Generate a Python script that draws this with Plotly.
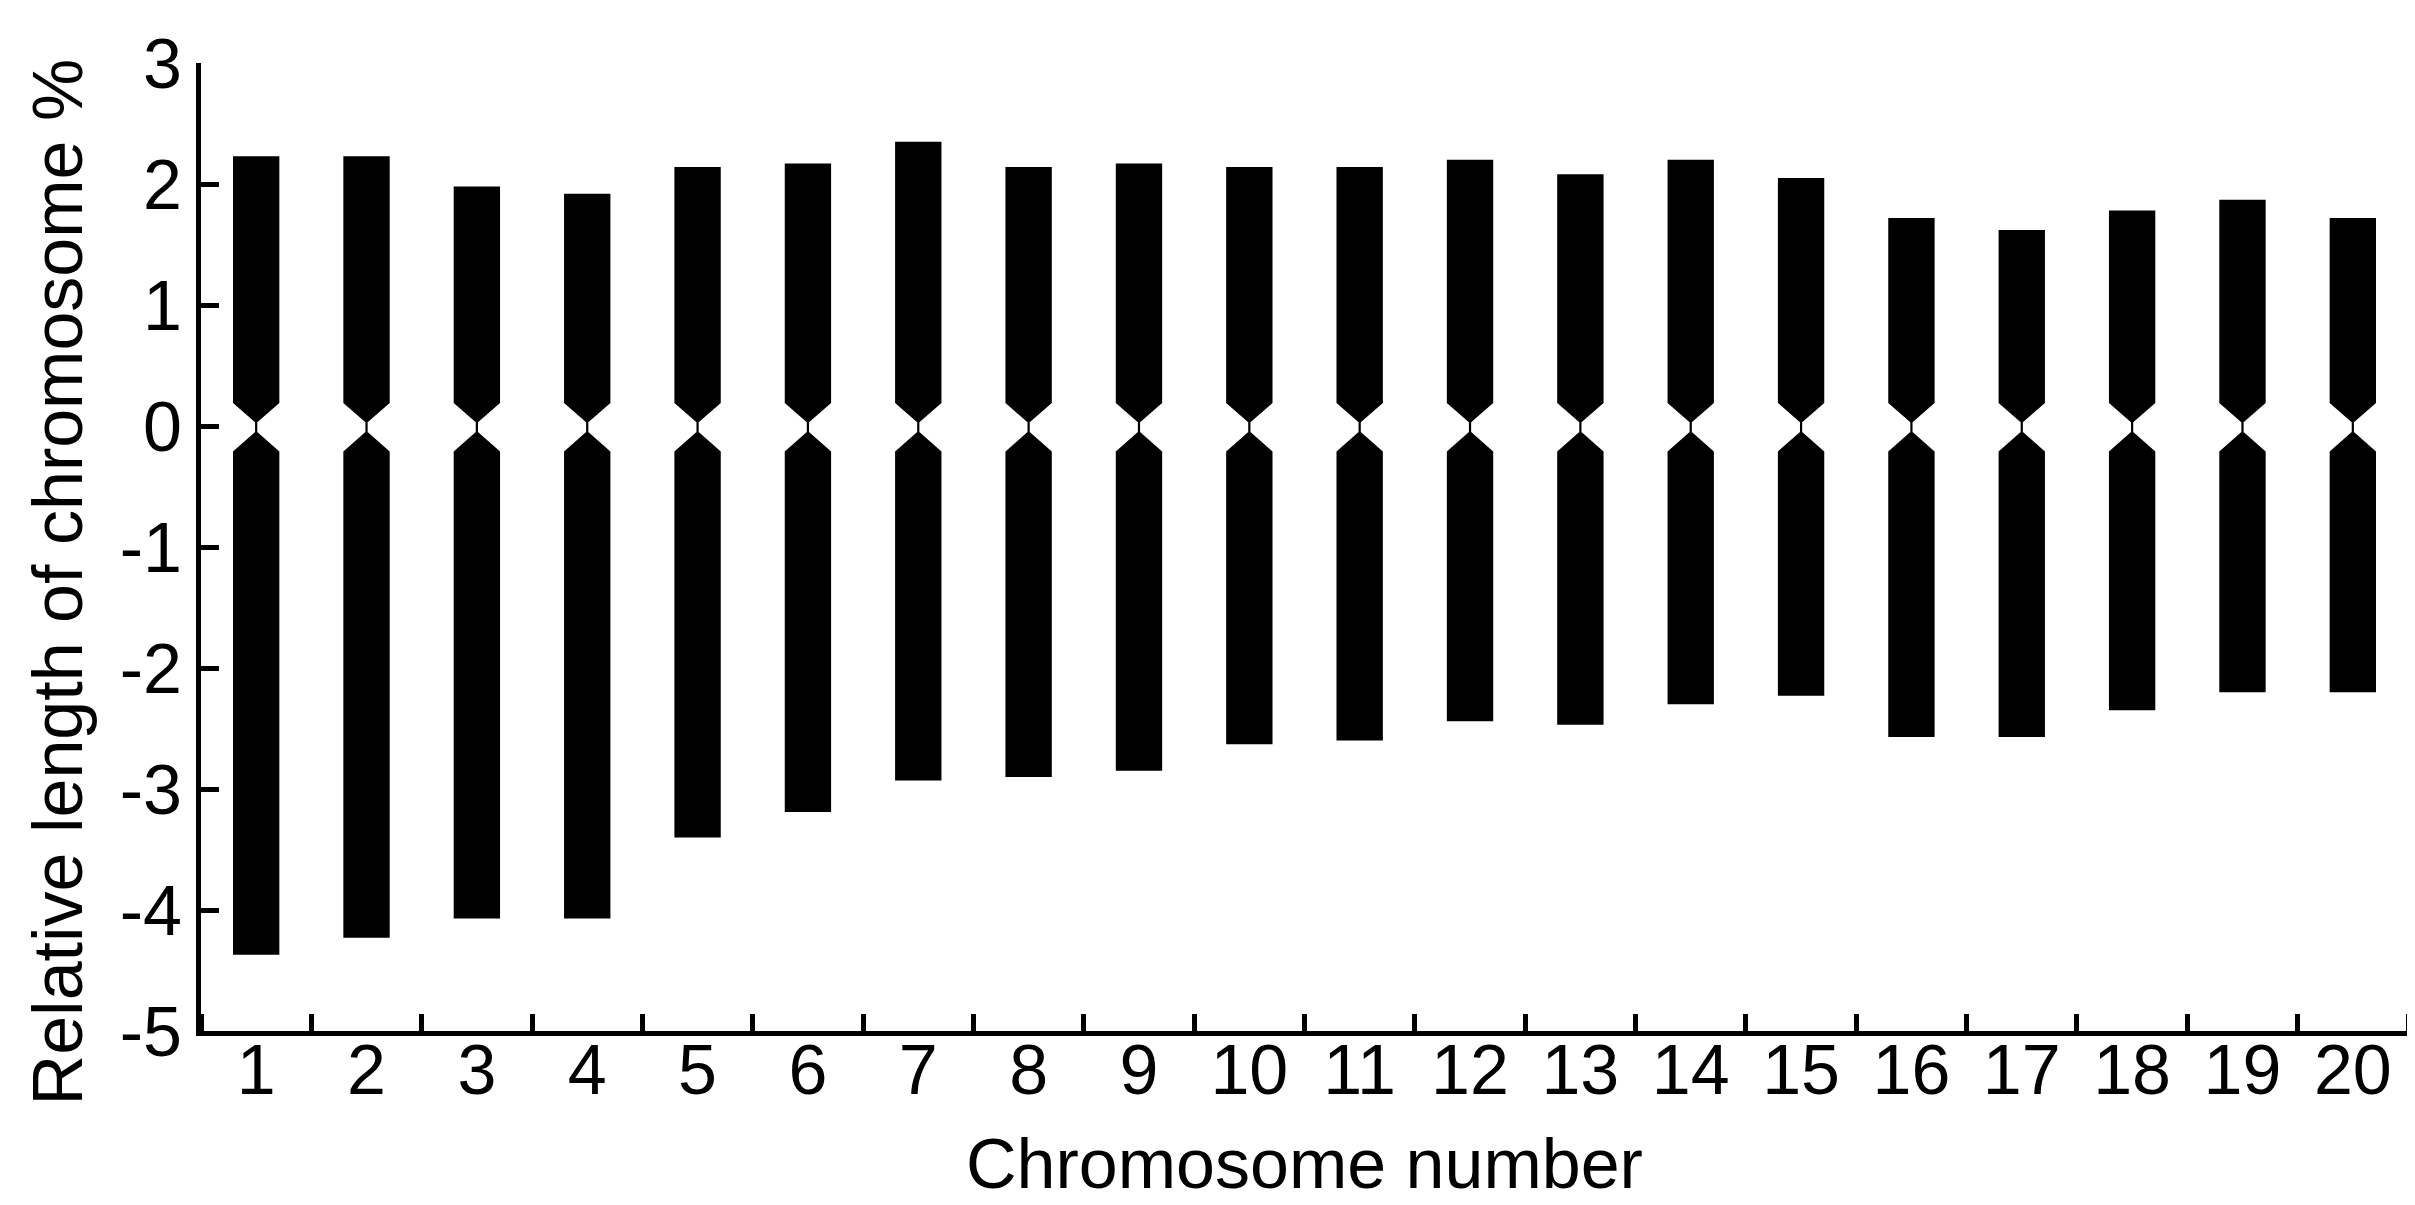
import plotly.graph_objects as go

# chromosome idiogram: short arm above 0, long arm below 0 (relative length %)
chromosomes = [str(i) for i in range(1, 21)]
short_arm = [2.23, 2.23, 1.98, 1.92, 2.14, 2.17, 2.35, 2.14, 2.17, 2.14,
             2.14, 2.20, 2.08, 2.20, 2.05, 1.72, 1.62, 1.78, 1.87, 1.72]
long_arm = [-4.37, -4.23, -4.07, -4.07, -3.40, -3.19, -2.93, -2.90, -2.85, -2.63,
            -2.60, -2.44, -2.47, -2.30, -2.23, -2.57, -2.57, -2.35, -2.20, -2.20]
y_ticks = [3, 2, 1, 0, -1, -2, -3, -4, -5]
y_ticktext = ['3', '2', '1', '0', '-1', '-2', '-3', '-4', '-5']

HALF_W = 0.21    # half width of a chromosome in category units
NECK_W = 0.01    # half width at the centromere
ARM_END_TOP, NECK_TOP = 0.19, 0.03
NECK_BOT, ARM_END_BOT = -0.05, -0.21


def outline(c, top, bottom):
    xs = [c - HALF_W, c + HALF_W, c + HALF_W, c + NECK_W, c + NECK_W, c + HALF_W,
          c + HALF_W, c - HALF_W, c - HALF_W, c - NECK_W, c - NECK_W, c - HALF_W, c - HALF_W]
    ys = [top, top, ARM_END_TOP, NECK_TOP, NECK_BOT, ARM_END_BOT,
          bottom, bottom, ARM_END_BOT, NECK_BOT, NECK_TOP, ARM_END_TOP, top]
    return xs, ys


fig = go.Figure()
for i, (name, top, bottom) in enumerate(zip(chromosomes, short_arm, long_arm)):
    xs, ys = outline(i + 1, top, bottom)
    fig.add_trace(go.Scatter(x=xs, y=ys, fill='toself', fillcolor='black',
                             mode='lines', line=dict(color='black', width=0),
                             name=name, showlegend=False, hoverinfo='skip'))

font = 'Liberation Sans, Arial, sans-serif'
fig.update_layout(
    width=2415, height=1205,
    paper_bgcolor='white', plot_bgcolor='white',
    margin=dict(l=193, r=15, t=55, b=182),
    font=dict(family=font, color='black', size=70),
    xaxis=dict(range=[0.5, 20.5], tickmode='array', tickvals=list(range(1, 21)),
               ticktext=chromosomes, ticks='', showgrid=False, zeroline=False,
               showline=True, linecolor='black', linewidth=5,
               minor=dict(tick0=0.5, dtick=1, ticks='inside', ticklen=17,
                          tickwidth=5, tickcolor='black', showgrid=False),
               tickfont=dict(size=70), ticklabelstandoff=-26),
    yaxis=dict(range=[-5, 3], tickmode='array', tickvals=y_ticks, ticktext=y_ticktext,
               ticks='inside', ticklen=18, tickwidth=5, tickcolor='black',
               showgrid=False, zeroline=False, showline=True, linecolor='black',
               linewidth=5, tickfont=dict(size=70)),
    annotations=[
        dict(text='Chromosome number', xref='paper', yref='paper', x=0.5, y=-0.137,
             xanchor='center', yanchor='middle', showarrow=False, font=dict(size=70)),
        dict(text='Relative length of chromosome %', xref='paper', yref='paper',
             x=-0.065, y=0.464, xanchor='center', yanchor='middle', textangle=-90,
             showarrow=False, font=dict(size=70)),
    ],
)

fig.write_html("out.html")
